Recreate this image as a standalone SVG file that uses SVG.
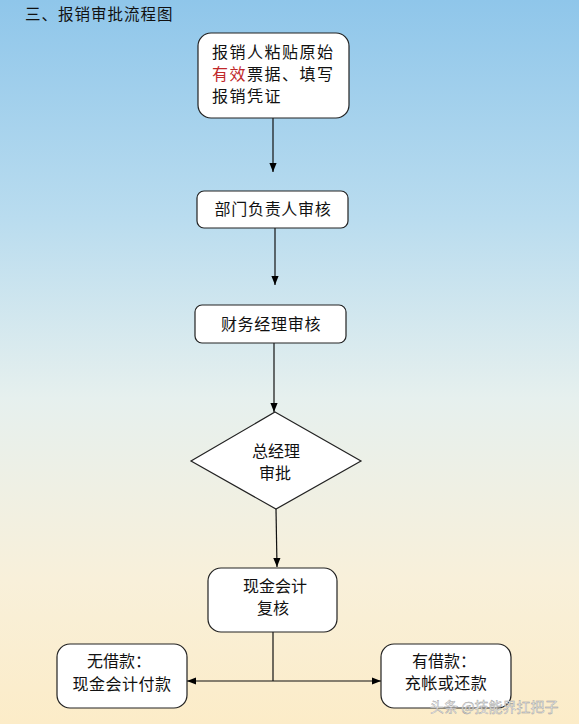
<svg xmlns="http://www.w3.org/2000/svg" width="579" height="724" viewBox="0 0 579 724">
<defs>
<linearGradient id="bg" x1="0" y1="0" x2="0" y2="1">
<stop offset="0" stop-color="#8fc6ea"/>
<stop offset="0.3" stop-color="#b9dcef"/>
<stop offset="0.55" stop-color="#e6f0ee"/>
<stop offset="0.8" stop-color="#f8f0da"/>
<stop offset="1" stop-color="#fcecc8"/>
</linearGradient>
<marker id="ah" viewBox="0 0 10 10" refX="10" refY="5" markerWidth="9" markerHeight="9" markerUnits="userSpaceOnUse" orient="auto">
<path d="M0,1 L10,5 L0,9 Z" fill="#000"/>
</marker>
<style>
.box{fill:#fff;stroke:#222;stroke-width:1.2}
.t{font-family:"Noto Sans CJK SC","Noto Sans",sans-serif;font-size:16px;fill:#111}
.c{text-anchor:middle}
.ln{stroke:#111;stroke-width:1.2;fill:none}
</style>
</defs>
<rect width="579" height="724" fill="url(#bg)"/>
<text class="t" x="25" y="20" style="font-size:15.5px" letter-spacing="1">三、报销审批流程图</text>

<g id="connectors">
<line class="ln" x1="273" y1="118" x2="273" y2="172" marker-end="url(#ah)"/>
<line class="ln" x1="275" y1="228" x2="275" y2="285" marker-end="url(#ah)"/>
<line class="ln" x1="274" y1="343" x2="274" y2="412" marker-end="url(#ah)"/>
<line class="ln" x1="276" y1="509" x2="277" y2="567" marker-end="url(#ah)"/>
<polyline class="ln" points="273,632 273,681"/>
<line class="ln" x1="273" y1="681" x2="187" y2="681" marker-end="url(#ah)"/>
<line class="ln" x1="273" y1="681" x2="381" y2="681" marker-end="url(#ah)"/>
</g>

<g id="n1">
<rect class="box" x="198" y="33" width="151" height="85" rx="13"/>
<text class="t" x="212" y="58" letter-spacing="1.5">报销人粘贴原始</text>
<text class="t" x="212" y="80" letter-spacing="1.5"><tspan fill="#c0282a">有效</tspan>票据、填写</text>
<text class="t" x="212" y="102" letter-spacing="1.5">报销凭证</text>
</g>
<g id="n2">
<rect class="box" x="197" y="191" width="151" height="37" rx="7"/>
<text class="t c" x="273" y="215" letter-spacing="0.7">部门负责人审核</text>
</g>
<g id="n3">
<rect class="box" x="195" y="305" width="151" height="38" rx="7"/>
<text class="t c" x="271" y="330" letter-spacing="0.7">财务经理审核</text>
</g>
<g id="n4">
<polygon class="box" points="275,412 361,461 276,509 191,461"/>
<text class="t c" x="276" y="457">总经理</text>
<text class="t c" x="275" y="479">审批</text>
</g>
<g id="n5">
<rect class="box" x="208" y="568" width="129" height="64" rx="13"/>
<text class="t c" x="275" y="592">现金会计</text>
<text class="t c" x="273" y="614">复核</text>
</g>
<g id="n6">
<rect class="box" x="57" y="644" width="130" height="64" rx="13"/>
<text class="t c" x="119" y="667">无借款：</text>
<text class="t c" x="122" y="690" letter-spacing="0.5">现金会计付款</text>
</g>
<g id="n7">
<rect class="box" x="381" y="644" width="130" height="64" rx="13"/>
<text class="t c" x="444" y="667">有借款：</text>
<text class="t c" x="446" y="689" letter-spacing="0.5">充帐或还款</text>
</g>
<text x="430" y="712" style="font-family:'Noto Sans CJK SC',sans-serif;font-size:14px;fill:#f4f4f4;stroke:#999;stroke-width:0.4">头条 @技能界扛把子</text>
</svg>
